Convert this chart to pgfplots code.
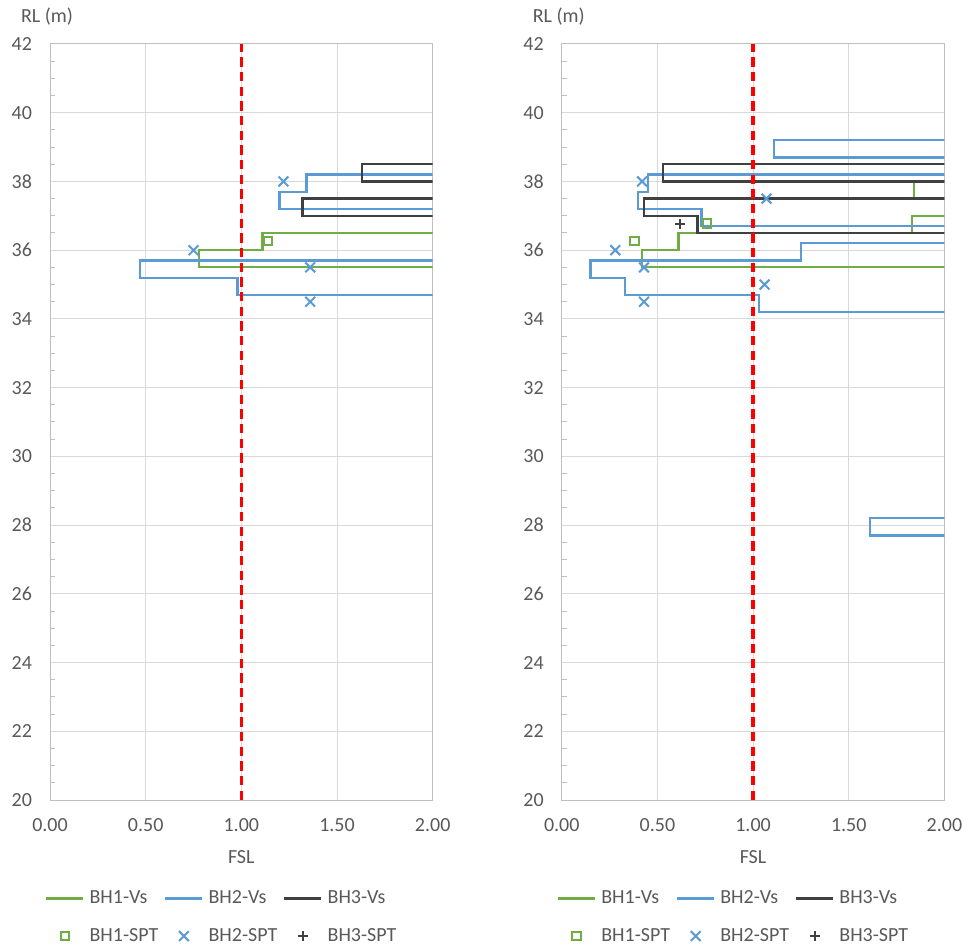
\documentclass[border=0pt]{standalone}
\usepackage{fontspec}
\setmainfont{Carlito}
\usepackage{pgfplots}
\pgfplotsset{compat=1.18}
\definecolor{g1}{HTML}{70AD47}
\definecolor{b2}{HTML}{5B9BD5}
\definecolor{k3}{HTML}{404040}
\definecolor{txt}{HTML}{595959}
\definecolor{grd}{HTML}{D9D9D9}
\definecolor{tck}{HTML}{BFBFBF}
\pgfplotsset{
  fslaxis/.style={
    scale only axis, width=287pt, height=567pt,
    xmin=0, xmax=2, ymin=20, ymax=42,
    xtick={0,0.5,1,1.5,2}, ytick={20,22,...,42},
    minor y tick num=3,
    grid=major, grid style={grd, line width=0.75pt},
    axis line style={tck, line width=0.75pt},
    major tick length=0pt, minor tick length=3.75pt, tick align=inside,
    ytick pos=left, xtick pos=bottom,
    minor tick style={tck, line width=0.75pt},
    tick label style={font=\fontsize{15}{18}\selectfont, text=txt},
    /pgf/number format/assume math mode=true,
    xticklabel style={yshift=-10pt, /pgf/number format/fixed, /pgf/number format/fixed zerofill, /pgf/number format/precision=2},
    yticklabel style={xshift=-10pt},
    xlabel={FSL}, ylabel={RL (m)},
    every axis x label/.style={at={(axis description cs:0.5,0)}, anchor=center, yshift=-42.5pt, font=\fontsize{15}{18}\selectfont, text=txt},
    every axis y label/.style={at={(axis description cs:0,1)}, anchor=center, xshift=-2.25pt, yshift=20.25pt, font=\fontsize{15}{18}\selectfont, text=txt},
    legend columns=3, legend cell align=left,
    legend image code/.code={\draw[mark repeat=2, mark phase=2, #1] plot coordinates {(0pt,0pt) (13.875pt,0pt) (27.75pt,0pt)};},
    legend style={at={(axis description cs:0,0)}, anchor=north west, xshift=-3.75pt, yshift=-68pt,
      draw=none, fill=none, inner sep=0pt, font=\fontsize{15}{18}\selectfont, text=txt,
      row sep=17pt, column sep=3.75pt, nodes={inner sep=0pt},
      /tikz/every even column/.append style={column sep=4.5pt}},
  },
  vsline/.style={line width=1.7pt, mark=none},
  sptmark/.style={only marks, mark options={solid, line width=1.5pt}},
}
\begin{document}
\begin{tikzpicture}
\useasboundingbox (0pt,0pt) rectangle (721.5pt,709.5pt);
% ---------------- left panel ----------------
\begin{axis}[fslaxis, at={(37.5pt,109.5pt)}, anchor=south west]
\addplot[g1, vsline] coordinates {(3,36.5) (1.11,36.5) (1.11,36.0) (0.78,36.0) (0.78,35.5) (3,35.5)};
\addlegendentry{BH1-Vs}
\addplot[b2, vsline] coordinates {(3,38.2) (1.34,38.2) (1.34,37.7) (1.20,37.7) (1.20,37.2) (3,37.2) (3,35.7) (0.47,35.7) (0.47,35.2) (0.98,35.2) (0.98,34.7) (3,34.7)};
\addlegendentry{BH2-Vs}
\addplot[k3, vsline] coordinates {(3,38.5) (1.63,38.5) (1.63,38.0) (3,38.0) (3,37.5) (1.32,37.5) (1.32,37.0) (3,37.0)};
\addlegendentry{BH3-Vs}
\addplot[g1, sptmark, mark=square, mark size=3.2pt] coordinates {(1.14,36.27)};
\addlegendentry{BH1-SPT}
\addplot[b2, sptmark, mark=x, mark size=5.2pt] coordinates {(1.22,38.0) (0.75,36.0) (1.36,35.5) (1.36,34.5)};
\addlegendentry{BH2-SPT}
\addlegendimage{k3, sptmark, mark=+, mark size=3.75pt}
\addlegendentry{BH3-SPT}
\addplot[red, line width=2.4pt, dash pattern=on 7pt off 4pt, forget plot] coordinates {(1,20) (1,42)};
\end{axis}
% ---------------- right panel ----------------
\begin{axis}[fslaxis, at={(421.3pt,109.5pt)}, anchor=south west]
\addplot[g1, vsline] coordinates {(3,38.0) (1.84,38.0) (1.84,37.5) (3,37.5) (3,37.0) (1.83,37.0) (1.83,36.5) (0.61,36.5) (0.61,36.0) (0.42,36.0) (0.42,35.5) (3,35.5)};
\addlegendentry{BH1-Vs}
\addplot[b2, vsline] coordinates {(3,39.2) (1.11,39.2) (1.11,38.7) (3,38.7) (3,38.2) (0.45,38.2) (0.45,37.7) (0.40,37.7) (0.40,37.2) (0.73,37.2) (0.73,36.7) (3,36.7) (3,36.2) (1.25,36.2) (1.25,35.7) (0.15,35.7) (0.15,35.2) (0.33,35.2) (0.33,34.7) (1.03,34.7) (1.03,34.2) (3,34.2) (3,28.2) (1.61,28.2) (1.61,27.7) (3,27.7)};
\addlegendentry{BH2-Vs}
\addplot[k3, vsline] coordinates {(3,38.5) (0.53,38.5) (0.53,38.0) (3,38.0) (3,37.5) (0.43,37.5) (0.43,37.0) (0.71,37.0) (0.71,36.5) (3,36.5)};
\addlegendentry{BH3-Vs}
\addplot[g1, sptmark, mark=square, mark size=3.2pt] coordinates {(0.38,36.27) (0.76,36.77)};
\addlegendentry{BH1-SPT}
\addplot[b2, sptmark, mark=x, mark size=5.2pt] coordinates {(0.42,38.0) (1.07,37.5) (0.28,36.0) (0.43,35.5) (1.06,35.0) (0.43,34.5)};
\addlegendentry{BH2-SPT}
\addplot[k3, sptmark, mark=+, mark size=3.75pt] coordinates {(0.62,36.75)};
\addlegendentry{BH3-SPT}
\addplot[red, line width=2.4pt, dash pattern=on 7pt off 4pt, forget plot] coordinates {(1,20) (1,42)};
\end{axis}
\end{tikzpicture}
\end{document}
